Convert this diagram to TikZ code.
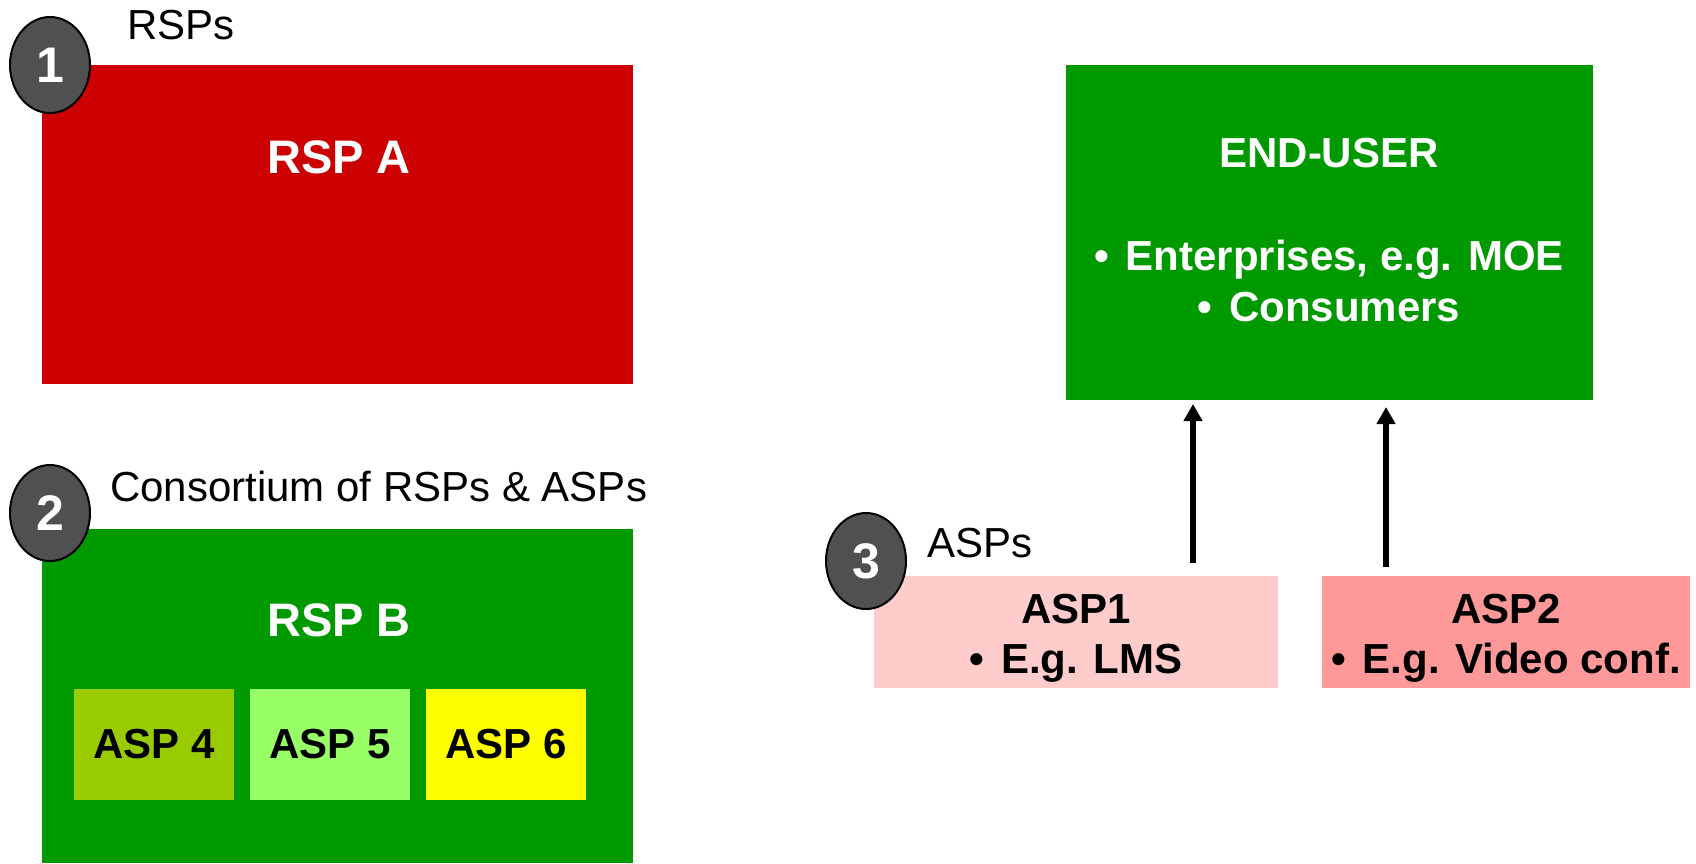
\documentclass[tikz,border=0pt]{standalone}
\usepackage{fontspec}
\setmainfont{Liberation Sans}
\usetikzlibrary{shapes.geometric,arrows.meta}

\definecolor{rspred}{HTML}{CC0000}
\definecolor{rspgreen}{HTML}{009900}
\definecolor{asplime}{HTML}{99CC00}
\definecolor{asplight}{HTML}{99FF66}
\definecolor{aspyellow}{HTML}{FFFF00}
\definecolor{asppink}{HTML}{FFCCCC}
\definecolor{asprose}{HTML}{FF9999}
\definecolor{badgegray}{HTML}{505050}

\tikzset{
  panel/.style={rectangle, inner sep=0pt, outer sep=0pt},
  badge/.style={ellipse, draw=black, line width=2pt, fill=badgegray,
    minimum width=80pt, minimum height=96pt, inner sep=0pt, text=white,
    font=\fontsize{50}{50}\selectfont\bfseries},
  caption/.style={inner sep=0pt, anchor=base west, font=\fontsize{42}{42}\selectfont},
  title/.style={inner sep=0pt, anchor=base, font=\fontsize{47}{47}\selectfont\bfseries, text=white},
  line/.style={inner sep=0pt, anchor=base, font=\fontsize{42}{42}\selectfont\bfseries},
  flow/.style={-{Triangle[length=17pt,width=18pt]}, line width=6pt}
}

\begin{document}
\begin{tikzpicture}[x=1pt, y=-1pt]
  \useasboundingbox (0,0) rectangle (1696,863);

  % RSP A
  \node[panel, fill=rspred, minimum width=591pt, minimum height=319pt] (rspA) at (337.5,224.5) {};
  \node[title] (rspAtitle) at (339,173) {RSP A};
  \node[caption] (rsps) at (127,39) {RSPs};

  % Consortium
  \node[panel, fill=rspgreen, minimum width=591pt, minimum height=334pt] (rspB) at (337.5,696) {};
  \node[title] (rspBtitle) at (339,636) {RSP B};
  \node[caption] (consortium) at (110,501) {Consortium of RSPs \& ASPs};
  \foreach \n/\cx/\col in {4/154/asplime, 5/330/asplight, 6/506/aspyellow}
    \node[panel, fill=\col, minimum width=160pt, minimum height=111pt,
      font=\fontsize{42}{42}\selectfont\bfseries] (asp\n) at (\cx,744.5) {ASP \n};

  % End user
  \node[panel, fill=rspgreen, minimum width=527pt, minimum height=335pt] (enduser) at (1329.5,232.5) {};
  \node[line, text=white] (eutitle) at (1329,167) {END-USER};
  \node[line, text=white] (euent) at (1329,270) {•\hspace{0.4em}Enterprises, e.g. MOE};
  \node[line, text=white] (eucons) at (1329,321) {•\hspace{0.4em}Consumers};

  % ASPs
  \node[panel, fill=asppink, minimum width=404pt, minimum height=112pt] (asp1) at (1076,632) {};
  \node[line] (asp1title) at (1076,623) {ASP1};
  \node[line] (asp1ex) at (1076,673) {•\hspace{0.4em}E.g. LMS};
  \node[panel, fill=asprose, minimum width=368pt, minimum height=112pt] (asp2) at (1506,632) {};
  \node[line] (asp2title) at (1506,623) {ASP2};
  \node[line] (asp2ex) at (1506,673) {•\hspace{0.4em}E.g. Video conf.};
  \node[caption] (asps) at (927,557) {ASPs};

  % Arrows
  \coordinate (upA) at (1193,0);
  \coordinate (upB) at (1386,0);
  \draw[flow, shorten <=13pt, shorten >=4pt] (asp1.north -| upA) -- (enduser.south -| upA);
  \draw[flow, shorten <=9pt, shorten >=7pt] (asp2.north -| upB) -- (enduser.south -| upB);

  % Badges
  \node[badge] (one) at (50,65) {1};
  \node[badge] (two) at (50,513) {2};
  \node[badge] (three) at (866,561) {3};
\end{tikzpicture}
\end{document}
